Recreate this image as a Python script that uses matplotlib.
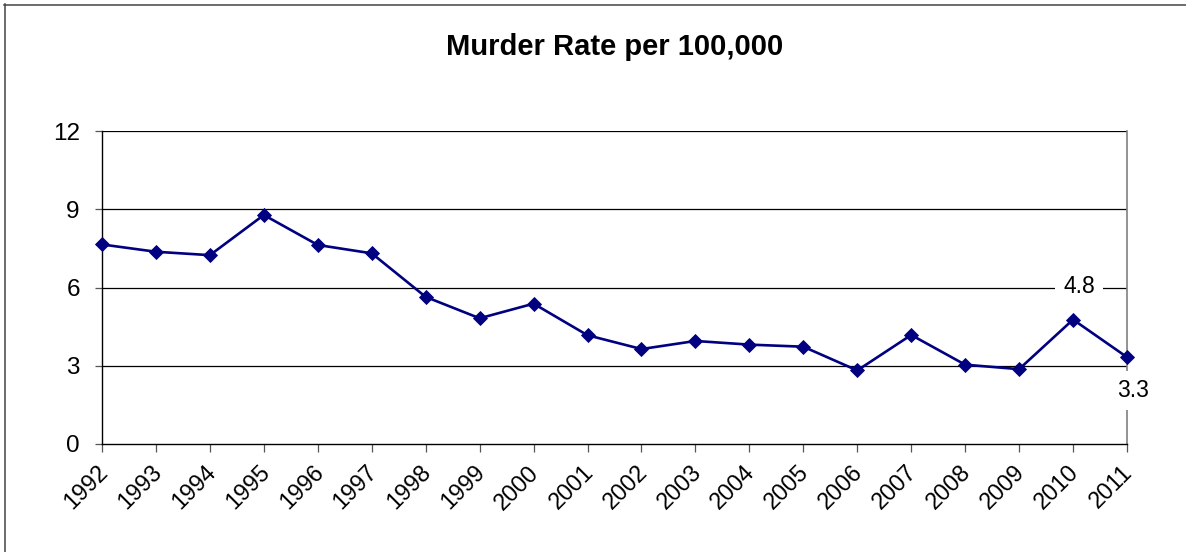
import matplotlib
matplotlib.use("Agg")
import matplotlib.pyplot as plt
from matplotlib.lines import Line2D
import matplotlib.transforms as mtransforms

plt.rcParams['font.family'] = ['Liberation Sans', 'DejaVu Sans']

# ---- data ----
years = list(range(1992, 2012))
murder_rate = [7.65, 7.37, 7.24, 8.78, 7.63, 7.31, 5.64, 4.82, 5.38, 4.17,
               3.64, 3.95, 3.81, 3.73, 2.82, 4.18, 3.04, 2.87, 4.77, 3.33]
year_labels = [str(y) for y in years]
y_ticks = [0, 3, 6, 9, 12]
title = "Murder Rate per 100,000"
labelled_years = [2010, 2011]

W, H = 1186, 552
fig = plt.figure(figsize=(W / 100, H / 100), dpi=100)
fig.patch.set_facecolor('white')

L, R, T, B = 102, 1127, 131, 444
ax = fig.add_axes([L / W, 1 - B / H, (R - L) / W, (B - T) / H])

ax.set_xlim(years[0], years[-1])
ax.set_ylim(y_ticks[0], y_ticks[-1])

for yv in y_ticks[1:]:
    ax.axhline(yv, color='black', lw=0.9, zorder=1)

ax.plot(years, murder_rate, color='#000080', lw=1.9, marker='D', ms=7.0,
        mec='#000080', mfc='#000080', mew=0.6, zorder=4, clip_on=False)

ax.set_yticks(y_ticks)
ax.set_yticklabels([str(v) for v in y_ticks])
ax.set_xticks(years)
ax.set_xticklabels(year_labels, rotation=45, ha='right', va='top',
                   rotation_mode='anchor')
ax.tick_params(axis='y', length=5, width=0.9, color='#555555', pad=11, labelsize=17.5)
ax.tick_params(axis='x', length=6, width=0.9, color='#555555', pad=9, labelsize=16.8)

shift = mtransforms.ScaledTranslation(-6 / 100, 4 / 100, fig.dpi_scale_trans)
for lbl in ax.get_xticklabels():
    lbl.set_transform(lbl.get_transform() + shift)

ax.spines['top'].set_visible(False)
ax.spines['left'].set_color('black')
ax.spines['left'].set_linewidth(1.0)
ax.spines['bottom'].set_color('black')
ax.spines['bottom'].set_linewidth(1.0)
ax.spines['right'].set_color('#808080')
ax.spines['right'].set_linewidth(1.2)
ax.spines['right'].set_zorder(2)

# data labels on the last two points
offsets = {2010: (6, 33), 2011: (6, -33)}
for yr in labelled_years:
    v = murder_rate[years.index(yr)]
    ax.annotate(f"{v:.1f}", (yr, v), xytext=offsets[yr], textcoords='offset pixels',
                ha='center', va='center', fontsize=16.5, zorder=5,
                annotation_clip=False,
                bbox=dict(boxstyle='square,pad=0.35', fc='white', ec='none'))

fig.text(615 / W, 1 - 47 / H, title, ha='center', va='center',
         fontsize=21, fontweight='bold')

# outer chart border (left and top edges visible)
fig.add_artist(Line2D([4.5 / W, 4.5 / W], [0, 1 - 4 / H], transform=fig.transFigure,
                      color='#444444', lw=1.1))
fig.add_artist(Line2D([4 / W, 1], [1 - 4.5 / H, 1 - 4.5 / H], transform=fig.transFigure,
                      color='#444444', lw=1.1))

fig.savefig('out.png', dpi=100, facecolor='white')
